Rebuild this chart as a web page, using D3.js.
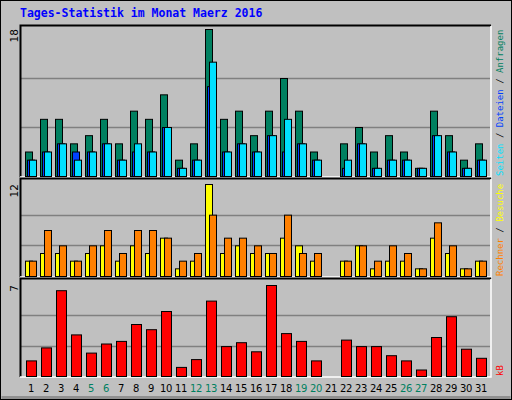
<!DOCTYPE html>
<html><head><meta charset="utf-8">
<script src="https://cdn.jsdelivr.net/npm/d3@7"></script>
<style>body{margin:0;background:#c0c0c0}svg{display:block}</style>
</head><body><svg id="c" width="512" height="400"></svg>
<script>
const days = d3.range(1,32);
const weekend = [5,6,12,13,19,20,26,27];
const hits  = [3,7,7,4,5,7,4,8,7,10,2,4,18,7,8,5,8,12,8,3,0,4,6,3,5,3,1,8,5,2,4];
const files = [2,3,4,3,3,4,2,3,3,6,1,2,11,3,4,3,5,3,4,2,0,1,4,1,2,2,1,5,3,1,2];
const pages = [2,3,4,2,3,4,2,4,3,6,1,2,14,3,4,3,5,7,4,2,0,2,4,1,2,2,1,5,3,1,2];
const visits= [2,3,3,2,3,4,2,4,3,5,1,2,12,3,4,3,3,5,4,2,0,2,4,1,2,2,1,5,3,1,2];
const sites = [2,6,4,2,4,6,3,6,6,5,2,3,8,5,5,4,3,8,3,3,0,2,4,2,4,3,1,7,4,1,2];
const kbytes= [1.2,2.2,6.6,3.2,1.8,2.5,2.7,4.0,3.6,5.0,0.7,1.3,5.8,2.3,2.6,1.9,7.0,3.3,2.7,1.2,0,2.8,2.3,2.3,1.6,1.2,0.5,3.0,4.6,2.1,1.4];
const maxTop=18, maxMid=12, maxBot=7;

const svg=d3.select("#c");
svg.append("rect").attr("x",0.5).attr("y",0.5).attr("width",511).attr("height",399).attr("fill","#c0c0c0").attr("stroke","#000");
svg.append("rect").attr("x",1.5).attr("y",396).attr("width",509).attr("height",3).attr("fill","#909090");
svg.append("text").attr("x",20).attr("y",17).text("Tages-Statistik im Monat Maerz 2016")
  .attr("font-family","DejaVu Sans Mono").attr("font-weight","bold").attr("font-size",11.5).attr("fill","#0000ff");

const x=d3.scaleLinear().domain([1,31]).range([25,475]);
const panels=[
 {top:25,bot:177,max:maxTop,y:d3.scaleLinear().domain([0,maxTop]).range([176,29])},
 {top:178,bot:277,max:maxMid,y:d3.scaleLinear().domain([0,maxMid]).range([276,184])},
 {top:278,bot:377,max:maxBot,y:d3.scaleLinear().domain([0,maxBot]).range([376,285])}
];
panels.forEach(p=>{
  svg.append("rect").attr("x",20).attr("y",p.top).attr("width",471).attr("height",p.bot-p.top).attr("fill","#c0c0c0");
  [1/3,2/3].forEach(f=>svg.append("line").attr("x1",21).attr("x2",490).attr("y1",Math.round(p.y(p.max*f))+0.5).attr("y2",Math.round(p.y(p.max*f))+0.5).attr("stroke","#808080").attr("stroke-width",1.5));
  svg.append("path").attr("d",`M20.5,${p.bot}V${p.top+0.5}H491`).attr("fill","none").attr("stroke","#000").attr("stroke-width",2);
  svg.append("path").attr("d",`M491,${p.top+1}V${p.bot}H20`).attr("fill","none").attr("stroke","#fff").attr("stroke-width",1.5);
  svg.append("text").attr("transform",`translate(18,${p.y(p.max)})rotate(-90)`).attr("text-anchor","end")
    .attr("font-family","DejaVu Sans").attr("font-size",10.5).attr("fill","#000").text(p.max);
});
function bars(vals,p,dx,w,col){
  svg.append("g").selectAll("rect").data(vals.map((v,i)=>({v,d:days[i]})).filter(o=>o.v>0)).join("rect")
   .attr("x",o=>x(o.d)+dx+0.5).attr("y",o=>p.y(o.v)+0.5).attr("width",w).attr("height",o=>p.y(0)-p.y(o.v))
   .attr("fill",col).attr("stroke","#000").attr("stroke-width",1);
}
bars(hits,panels[0],0,7,"#008060");
bars(files,panels[0],2,7,"#0040ff");
bars(pages,panels[0],4,7,"#00e0ff");
bars(visits,panels[1],0,7,"#ffff00");
bars(sites,panels[1],4,7,"#ff8000");
bars(kbytes,panels[2],1,10,"#ff0000");

svg.append("g").selectAll("text").data(days).join("text")
 .attr("x",d=>x(d)+6).attr("y",392).attr("text-anchor","middle")
 .attr("font-family","DejaVu Sans").attr("font-size",10).attr("letter-spacing",-0.3)
 .attr("fill",d=>weekend.includes(d)?"#008060":"#000").text(d=>d);

function side(yb,parts){
  const t=svg.append("text").attr("transform",`translate(503,${yb})rotate(-90)`)
   .attr("font-family","DejaVu Sans Mono").attr("font-size",9);
  parts.forEach(([s,c])=>t.append("tspan").attr("fill",c).text(s));
}
side(176,[["Seiten","#00e0ff"],[" / ","#000"],["Dateien","#0040ff"],[" / ","#000"],["Anfragen","#008060"]]);
side(276,[["Rechner","#ff8000"],[" / ","#000"],["Besuche","#ffff00"]]);
side(376,[["kB","#ff0000"]]);
</script></body></html>
